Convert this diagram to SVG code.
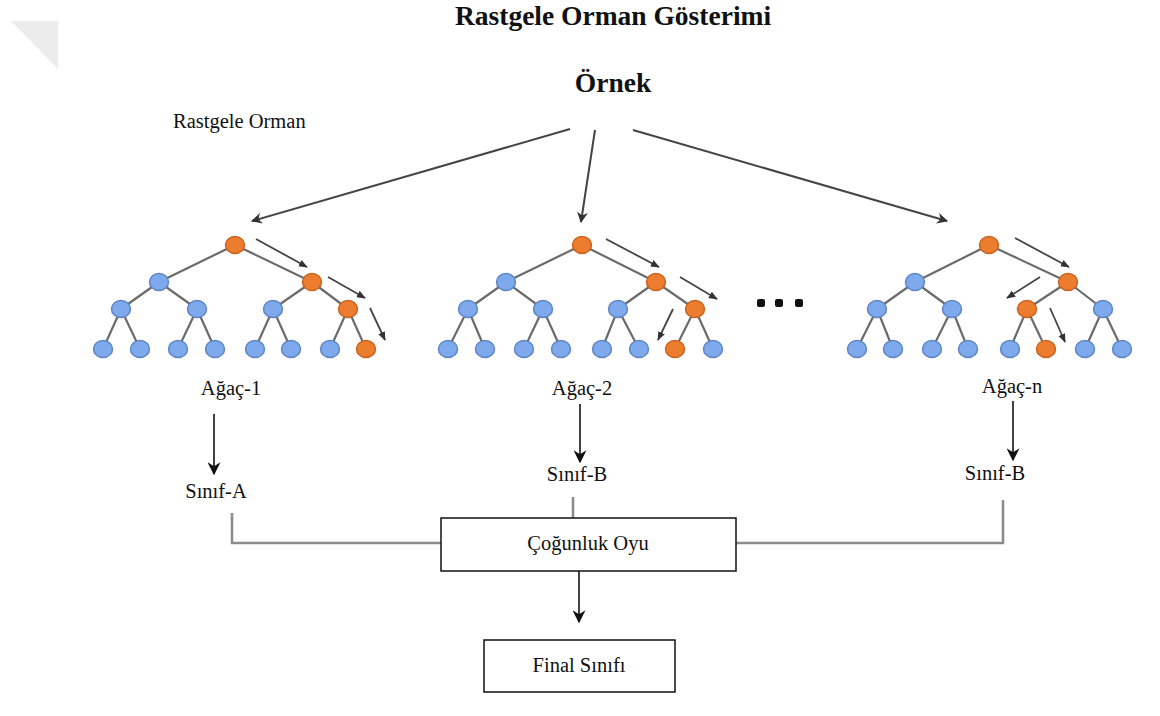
<svg xmlns="http://www.w3.org/2000/svg" width="1160" height="716" viewBox="0 0 1160 716">
<defs>
<style>
text{font-family:"Liberation Serif","Times New Roman",serif;fill:#111}
.title{font-size:27.5px;font-weight:bold}
.big{font-size:27.5px;font-weight:bold}
.lbl{font-size:20.5px}
.e{stroke:#6b6b6b;stroke-width:2.2;fill:none}
.b{fill:#7ea9ec;stroke:#5d86c6;stroke-width:1.5}
.o{fill:#ec7c2e;stroke:#c86420;stroke-width:1.5}
.pa{stroke:#444;stroke-width:1.8;fill:none;marker-end:url(#ah)}
.ta{stroke:#444;stroke-width:2;fill:none;marker-end:url(#th)}
.ka{stroke:#111;stroke-width:1.6;fill:none;marker-end:url(#kh)}
.br{stroke:#8a8a8a;stroke-width:2.5;fill:none}
.box{fill:#fff;stroke:#111;stroke-width:1.5}
</style>
<marker id="ah" viewBox="0 0 10 10" refX="9" refY="5" markerWidth="5" markerHeight="5" orient="auto" markerUnits="strokeWidth"><path d="M0,1 L10,5 L0,9 Z" fill="#333"/></marker>
<marker id="th" viewBox="0 0 10 10" refX="9" refY="5" markerWidth="11" markerHeight="11" orient="auto" markerUnits="userSpaceOnUse"><path d="M0,0 L10,5 L0,10 L3,5 Z" fill="#333"/></marker>
<marker id="kh" viewBox="0 0 10 10" refX="9" refY="5" markerWidth="13" markerHeight="13" orient="auto" markerUnits="userSpaceOnUse"><path d="M0,0 L10,5 L0,10 L3,5 Z" fill="#111"/></marker>
</defs>
<rect width="1160" height="716" fill="#fff"/>
<polygon points="11,21 58,21 58,69" fill="#ececec"/>

<text class="title" x="613" y="25" text-anchor="middle">Rastgele Orman Gösterimi</text>
<text class="big" x="613" y="92" text-anchor="middle">Örnek</text>
<text class="lbl" x="173" y="128">Rastgele Orman</text>

<g id="connectors">
<line class="ta" x1="570" y1="129" x2="252" y2="221"/>
<line class="ta" x1="595" y1="130" x2="581" y2="222"/>
<line class="ta" x1="633" y1="130" x2="947" y2="221"/>
<line class="ka" x1="214" y1="414" x2="214" y2="474"/>
<line class="ka" x1="580" y1="404" x2="580" y2="462"/>
<line class="ka" x1="1013" y1="401" x2="1013" y2="460"/>
<polyline class="br" points="232,513 232,543 441,543"/>
<polyline class="br" points="1003,500 1003,543 736,543"/>
<line class="br" x1="573" y1="497" x2="573" y2="518"/>
<line class="ka" x1="579" y1="571" x2="579" y2="622"/>
</g>

<g id="tree-1">
<path class="e" d="M235,245 L159,282 M235,245 L312,282 M159,282 L121,309 M159,282 L197,309 M312,282 L273,309 M312,282 L348,309 M121,309 L103,349 M121,309 L140,349 M197,309 L178,349 M197,309 L215,349 M273,309 L255,349 M273,309 L291,349 M348,309 L330,349 M348,309 L366,349"/>
<ellipse class="o" cx="235" cy="245" rx="9.5" ry="8.5"/>
<ellipse class="b" cx="159" cy="282" rx="9.5" ry="8.5"/>
<ellipse class="o" cx="312" cy="282" rx="9.5" ry="8.5"/>
<ellipse class="b" cx="121" cy="309" rx="9.5" ry="8.5"/>
<ellipse class="b" cx="197" cy="309" rx="9.5" ry="8.5"/>
<ellipse class="b" cx="273" cy="309" rx="9.5" ry="8.5"/>
<ellipse class="o" cx="348" cy="309" rx="9.5" ry="8.5"/>
<ellipse class="b" cx="103" cy="349" rx="9.5" ry="8.5"/>
<ellipse class="b" cx="140" cy="349" rx="9.5" ry="8.5"/>
<ellipse class="b" cx="178" cy="349" rx="9.5" ry="8.5"/>
<ellipse class="b" cx="215" cy="349" rx="9.5" ry="8.5"/>
<ellipse class="b" cx="255" cy="349" rx="9.5" ry="8.5"/>
<ellipse class="b" cx="291" cy="349" rx="9.5" ry="8.5"/>
<ellipse class="b" cx="330" cy="349" rx="9.5" ry="8.5"/>
<ellipse class="o" cx="366" cy="349" rx="9.5" ry="8.5"/>
<line class="pa" x1="256" y1="239" x2="307" y2="267"/>
<line class="pa" x1="328" y1="277" x2="365" y2="298"/>
<line class="pa" x1="370" y1="308" x2="385" y2="340"/>
<text class="lbl" x="231" y="395" text-anchor="middle">Ağaç-1</text>
<text class="lbl" x="216" y="498" text-anchor="middle">Sınıf-A</text>
</g>

<g id="tree-2">
<path class="e" d="M582,245 L506,282 M582,245 L656,282 M506,282 L468,309 M506,282 L543,309 M656,282 L618,309 M656,282 L695,309 M468,309 L448,349 M468,309 L485,349 M543,309 L524,349 M543,309 L561,349 M618,309 L602,349 M618,309 L639,349 M695,309 L675,349 M695,309 L713,349"/>
<ellipse class="o" cx="582" cy="245" rx="9.5" ry="8.5"/>
<ellipse class="b" cx="506" cy="282" rx="9.5" ry="8.5"/>
<ellipse class="o" cx="656" cy="282" rx="9.5" ry="8.5"/>
<ellipse class="b" cx="468" cy="309" rx="9.5" ry="8.5"/>
<ellipse class="b" cx="543" cy="309" rx="9.5" ry="8.5"/>
<ellipse class="b" cx="618" cy="309" rx="9.5" ry="8.5"/>
<ellipse class="o" cx="695" cy="309" rx="9.5" ry="8.5"/>
<ellipse class="b" cx="448" cy="349" rx="9.5" ry="8.5"/>
<ellipse class="b" cx="485" cy="349" rx="9.5" ry="8.5"/>
<ellipse class="b" cx="524" cy="349" rx="9.5" ry="8.5"/>
<ellipse class="b" cx="561" cy="349" rx="9.5" ry="8.5"/>
<ellipse class="b" cx="602" cy="349" rx="9.5" ry="8.5"/>
<ellipse class="b" cx="639" cy="349" rx="9.5" ry="8.5"/>
<ellipse class="o" cx="675" cy="349" rx="9.5" ry="8.5"/>
<ellipse class="b" cx="713" cy="349" rx="9.5" ry="8.5"/>
<line class="pa" x1="606" y1="239" x2="659" y2="267"/>
<line class="pa" x1="680" y1="277" x2="717" y2="299"/>
<line class="pa" x1="673" y1="309" x2="658" y2="340"/>
<text class="lbl" x="582" y="395" text-anchor="middle">Ağaç-2</text>
<text class="lbl" x="577" y="481" text-anchor="middle">Sınıf-B</text>
</g>

<g id="ellipsis">
<rect x="757" y="299" width="8" height="8" rx="2" fill="#111"/>
<rect x="775" y="299" width="8" height="8" rx="2" fill="#111"/>
<rect x="795" y="299" width="8" height="8" rx="2" fill="#111"/>
</g>

<g id="tree-n">
<path class="e" d="M989,245 L915,282 M989,245 L1068,282 M915,282 L877,309 M915,282 L952,309 M1068,282 L1027,309 M1068,282 L1103,309 M877,309 L857,349 M877,309 L893,349 M952,309 L932,349 M952,309 L968,349 M1027,309 L1010,349 M1027,309 L1046,349 M1103,309 L1085,349 M1103,309 L1122,349"/>
<ellipse class="o" cx="989" cy="245" rx="9.5" ry="8.5"/>
<ellipse class="b" cx="915" cy="282" rx="9.5" ry="8.5"/>
<ellipse class="o" cx="1068" cy="282" rx="9.5" ry="8.5"/>
<ellipse class="b" cx="877" cy="309" rx="9.5" ry="8.5"/>
<ellipse class="b" cx="952" cy="309" rx="9.5" ry="8.5"/>
<ellipse class="o" cx="1027" cy="309" rx="9.5" ry="8.5"/>
<ellipse class="b" cx="1103" cy="309" rx="9.5" ry="8.5"/>
<ellipse class="b" cx="857" cy="349" rx="9.5" ry="8.5"/>
<ellipse class="b" cx="893" cy="349" rx="9.5" ry="8.5"/>
<ellipse class="b" cx="932" cy="349" rx="9.5" ry="8.5"/>
<ellipse class="b" cx="968" cy="349" rx="9.5" ry="8.5"/>
<ellipse class="b" cx="1010" cy="349" rx="9.5" ry="8.5"/>
<ellipse class="o" cx="1046" cy="349" rx="9.5" ry="8.5"/>
<ellipse class="b" cx="1085" cy="349" rx="9.5" ry="8.5"/>
<ellipse class="b" cx="1122" cy="349" rx="9.5" ry="8.5"/>
<line class="pa" x1="1015" y1="238" x2="1069" y2="267"/>
<line class="pa" x1="1040" y1="277" x2="1007" y2="298"/>
<line class="pa" x1="1050" y1="308" x2="1065" y2="342"/>
<text class="lbl" x="1012" y="393" text-anchor="middle">Ağaç-n</text>
<text class="lbl" x="995" y="480" text-anchor="middle">Sınıf-B</text>
</g>

<g id="majority">
<rect class="box" x="441" y="518" width="295" height="53"/>
<text class="lbl" x="588" y="550" text-anchor="middle">Çoğunluk Oyu</text>
</g>

<g id="final">
<rect class="box" x="484" y="640" width="191" height="52"/>
<text class="lbl" x="579" y="672" text-anchor="middle">Final Sınıfı</text>
</g>
</svg>
